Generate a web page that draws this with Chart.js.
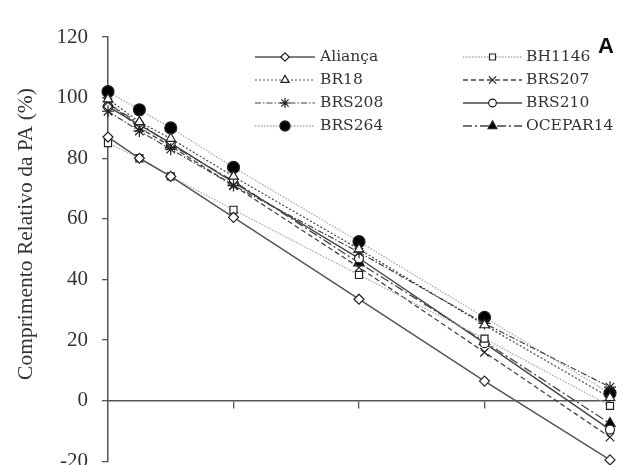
<!DOCTYPE html>
<html><head><meta charset="utf-8">
<script src="https://cdn.jsdelivr.net/npm/chart.js@4/dist/chart.umd.min.js"></script>
<style>html,body{margin:0;padding:0;background:#fff;overflow:hidden}#w{width:629px;height:488px}</style>
</head><body><div id="w"><canvas id="c" width="629" height="488"></canvas></div>
<script>
const doses = [0, 12.5, 25, 50, 100, 150, 200];
const yTicks = [-20, 0, 20, 40, 60, 80, 100, 120];
const yTitle = 'Comprimento Relativo da PA (%)';
const alianca = [87, 80, 74, 60.5, 33.5, 6.5, -19.5];
const bh1146 = [85, 80, 74, 63, 41.5, 20.5, -1.7];
const br18 = [99.5, 92, 86.5, 74, 50, 25, 1];
const brs207 = [98.5, 90, 84, 71, 44, 16, -12];
const brs208 = [95.5, 89, 83, 71, 49, 25.5, 4.5];
const brs210 = [97, 91, 85, 72, 47, 19, -9.5];
const brs264 = [102, 96, 90, 77, 52.5, 27.5, 2.5];
const ocepar14 = [98, 91.5, 84.5, 72.5, 45.5, 19.5, -7.5];
const names = ['Aliança','BH1146','BR18','BRS207','BRS208','BRS210','BRS264','OCEPAR14'];

function pts(v){ return doses.map((x,i)=>({x, y:v[i]})); }
function ds(label, data, color, dash, style, radius, fill, lw){
  return {label, data: pts(data), borderColor: color, borderWidth: lw||1.3, borderDash: dash,
    pointStyle: style, pointRadius: radius, pointBorderColor: '#222', pointBorderWidth: 1.2,
    pointBackgroundColor: fill, tension: 0, clip: false, fill: false};
}
const datasets = [
  ds(names[0], alianca, '#555', [], 'rectRot', 5, '#fff', 1.5),
  ds(names[1], bh1146, '#aaa', [1.5,1.5], 'rect', 5, '#fff', 1.3),
  ds(names[2], br18, '#444', [2,2], 'triangle', 5.5, '#fff', 1.2),
  ds(names[3], brs207, '#444', [5,3], 'crossRot', 6, '#fff', 1.3),
  ds(names[4], brs208, '#444', [6,2,1.5,2], 'star', 6, '#fff', 1.2),
  ds(names[5], brs210, '#444', [], 'circle', 4.5, '#fff', 1.4),
  ds(names[6], brs264, '#aaa', [1.5,1.5], 'circle', 6, '#000', 1.3),
  ds(names[7], ocepar14, '#444', [9,3,2,3], 'triangle', 6, '#000', 1.3)
];

const legendPlugin = {
  id: 'customLegend',
  afterDraw(chart){
    const ctx = chart.ctx;
    const cols = [{x0:255, x1:315, tx:320}, {x0:463, x1:522, tx:526}];
    const rows = [57, 80, 103, 126];
    ctx.save();
    chart.data.datasets.forEach((d, i) => {
      const c = cols[i % 2], y = rows[Math.floor(i / 2)];
      ctx.beginPath();
      ctx.setLineDash(d.borderDash);
      ctx.strokeStyle = d.borderColor; ctx.lineWidth = d.borderWidth;
      ctx.moveTo(c.x0, y); ctx.lineTo(c.x1, y); ctx.stroke();
      ctx.setLineDash([]);
      ctx.fillStyle = d.pointBackgroundColor; ctx.strokeStyle = d.pointBorderColor; ctx.lineWidth = 1.2;
      Chart.helpers.drawPoint(ctx, {pointStyle: d.pointStyle, radius: d.pointRadius*0.85, borderWidth: 1.2, rotation: 0}, (c.x0+c.x1)/2, y);
      ctx.fillStyle = '#333'; ctx.font = '15.5px "DejaVu Serif"';
      ctx.textBaseline = 'middle'; ctx.textAlign = 'left';
      ctx.fillText(d.label, c.tx, y);
    });
    ctx.font = 'bold 22px "Liberation Sans"'; ctx.fillStyle = '#111';
    ctx.fillText('A', 598, 47);
    // y axis title
    ctx.translate(26, 234);
    ctx.rotate(-Math.PI / 2);
    ctx.font = '21.5px "Liberation Serif"'; ctx.fillStyle = '#333';
    ctx.textAlign = 'center'; ctx.textBaseline = 'middle';
    ctx.fillText(yTitle, 0, 0);
    ctx.restore();
  }
};

new Chart(document.getElementById('c'), {
  type: 'line',
  data: { datasets },
  options: {
    responsive: false, animation: false, devicePixelRatio: 1,
    layout: { padding: { left: 0, right: 19, top: 37, bottom: 5 } },
    plugins: { legend: { display: false }, tooltip: { enabled: false } },
    scales: {
      x: {
        type: 'linear', min: 0, max: 200, position: { y: 0 },
        afterFit: s => { s.height = 0; },
        ticks: { display: false, stepSize: 50 },
        grid: { drawOnChartArea: false, drawTicks: true, tickLength: 7,
          color: c => c.tick && c.tick.value === 0 ? 'rgba(0,0,0,0)' : '#555', lineWidth: 1.3 },
        border: { color: '#555', width: 1.5 }
      },
      y: {
        type: 'linear', min: -20, max: 120,
        afterFit: s => { s.width = 108; },
        afterBuildTicks: s => { s.ticks = yTicks.map(v => ({value: v})); },
        ticks: { color: '#333', font: { family: 'Liberation Serif', size: 21 }, padding: 14 },
        grid: { drawOnChartArea: false, drawTicks: true, tickLength: 6, color: '#555', lineWidth: 1.3 },
        border: { color: '#555', width: 1.5 },
        title: { display: false, text: yTitle }
      }
    }
  },
  plugins: [legendPlugin]
});
</script></body></html>
